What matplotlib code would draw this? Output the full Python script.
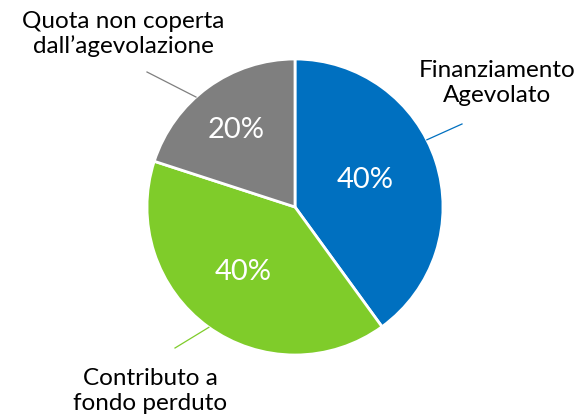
import numpy as np
import matplotlib
matplotlib.use("Agg")
import matplotlib.pyplot as plt

labels = ["Finanziamento\nAgevolato", "Contributo a\nfondo perduto", "Quota non coperta\ndall\u2019agevolazione"]
shares = [40, 40, 20]
slice_colors = ["#0070C0", "#7FCC2A", "#7F7F7F"]

W, H = 581, 419
cx, cy, R = 295, H - 207, 148

# per-slice layout: (pct label pos, leader start angle, leader end, text pos)
pct_pos = [(365, 180), (243, 272), (236, 130)]
leader_ang = [27, -125.6, 132]
leader_end = [(462, 124), (175, 348), (147, 72)]
text_pos = [(497, 83), (150, 391), (123, 34)]

plt.rcParams["font.family"] = ["Lato", "DejaVu Sans"]

fig = plt.figure(figsize=(W / 100, H / 100), dpi=100)
ax = fig.add_axes([0, 0, 1, 1])

wedges, _ = ax.pie(shares, colors=slice_colors, startangle=90, counterclock=False,
                   center=(cx, cy), radius=R, frame=True,
                   wedgeprops=dict(edgecolor="white", linewidth=2))
ax.set_xlim(0, W)
ax.set_ylim(0, H)
ax.set_aspect("equal")
ax.axis("off")

for i, (lab, v) in enumerate(zip(labels, shares)):
    px, py = pct_pos[i]
    ax.text(px, H - py, f"{v}%", color="white", fontsize=21, ha="center", va="center")
    a = np.deg2rad(leader_ang[i])
    sx, sy = cx + R * np.cos(a), cy + R * np.sin(a)
    ex, ey = leader_end[i]
    ax.plot([sx, ex], [sy, H - ey], color=slice_colors[i], lw=0.9)
    tx, ty = text_pos[i]
    ax.text(tx, H - ty, lab, color="black", fontsize=17.5, ha="center", va="center",
            linespacing=1.22)

fig.savefig("out.png", dpi=100)
